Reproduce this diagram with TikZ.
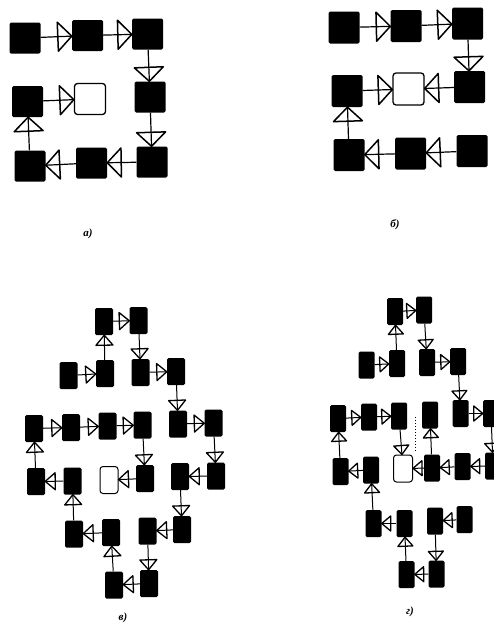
\documentclass[tikz,border=0pt]{standalone}
\usepackage{fontspec}
\setmainfont{Liberation Serif}
\usepackage{tikz}
\usetikzlibrary{decorations.markings, positioning}

\begin{document}
\begin{tikzpicture}[x=1pt, y=-1pt]
    % Styles
    \tikzstyle{blk} = [rectangle, fill=black, rounded corners=1.5pt, inner sep=0pt]
    \tikzstyle{outbox} = [rectangle, draw, fill=white, rounded corners=3pt, inner sep=0pt]
    \tikzstyle{link} = [draw, line width=1.2pt, postaction=decorate, decoration={markings,
        mark=at position 1 with {\draw [line width=1.5pt, line join=round] (-14pt,-14.5pt) -- (0pt,0pt) -- (-14pt,14.5pt) -- cycle;}}]
    \tikzstyle{slink} = [draw, line width=1pt, postaction=decorate, decoration={markings,
        mark=at position 1 with {\draw [line width=1.3pt, line join=round] (-10pt,-8.5pt) -- (0pt,0pt) -- (-10pt,8.5pt) -- cycle;}}]
    \tikzstyle{tlink} = [draw, line width=1pt, postaction=decorate, decoration={markings,
        mark=at position 1 with {\draw [line width=1.3pt, line join=round] (-9pt,-7.5pt) -- (0pt,0pt) -- (-9pt,7.5pt) -- cycle;}}]
    \tikzstyle{tag} = [font=\bfseries\itshape\fontsize{11}{11}\selectfont]

    \useasboundingbox (0,0) rectangle (494,629);

    % Panel a
    \begin{scope}[every node/.append style={minimum width=31pt, minimum height=31pt}]
    \node [blk] (A1) at (25,38) {};
    \node [blk] (A2) at (87.5,35.5) {};
    \node [blk] (A3) at (147.5,34) {};
    \node [blk] (A4) at (150,97) {};
    \node [blk] (A5) at (152,162) {};
    \node [blk] (A6) at (91.5,163) {};
    \node [blk] (A7) at (30,166) {};
    \node [blk] (A8) at (27.5,101.5) {};
    \node [outbox, line width=1.3pt] (A9) at (90,99) {};
    \end{scope}
    \draw [link] (A1) -- (A2);
    \draw [link] (A2) -- (A3);
    \draw [link] (A3) -- (A4);
    \draw [link] (A4) -- (A5);
    \draw [link] (A5) -- (A6);
    \draw [link] (A6) -- (A7);
    \draw [link] (A7) -- (A8);
    \draw [link] (A8) -- (A9);
    \node [tag] (tagA) at (88,234) {а)};

    % Panel b
    \begin{scope}[every node/.append style={minimum width=31pt, minimum height=32pt}]
    \node [blk] (B1) at (344,27.5) {};
    \node [blk] (B2) at (406,26) {};
    \node [blk] (B3) at (467.5,23.5) {};
    \node [blk] (B4) at (469.5,87) {};
    \node [outbox, line width=1.3pt] (B9) at (408.5,89) {};
    \node [blk] (B5) at (347,91) {};
    \node [blk] (B6) at (349,155) {};
    \node [blk] (B7) at (410.5,153.5) {};
    \node [blk] (B8) at (472,151) {};
    \end{scope}
    \draw [link] (B1) -- (B2);
    \draw [link] (B2) -- (B3);
    \draw [link] (B3) -- (B4);
    \draw [link] (B4) -- (B9);
    \draw [link] (B8) -- (B7);
    \draw [link] (B7) -- (B6);
    \draw [link] (B6) -- (B5);
    \draw [link] (B5) -- (B9);
    \node [tag] (tagB) at (395,225) {б)};

    % Panel c
    \begin{scope}[every node/.append style={minimum width=18pt, minimum height=27pt}]
    \node [blk] (C1) at (104,321.5) {};
    \node [blk] (C2) at (138.5,320.5) {};
    \node [blk] (C3) at (68.5,375.5) {};
    \node [blk] (C4) at (105,373.5) {};
    \node [blk] (C5) at (140.5,372.5) {};
    \node [blk] (C6) at (176,371.5) {};
    \node [blk] (C7) at (178,424) {};
    \node [blk] (C8) at (34,428.5) {};
    \node [blk] (C9) at (71,427.5) {};
    \node [blk] (C10) at (107.5,426) {};
    \node [blk] (C11) at (142.5,425) {};
    \node [blk] (C12) at (213.5,423) {};
    \node [blk] (C13) at (36,481.5) {};
    \node [blk] (C14) at (145,478.5) {};
    \node [blk] (C15) at (216,476) {};
    \node [blk] (C16) at (72.5,481) {};
    \node [outbox, line width=1pt] (C0) at (109,480) {};
    \node [blk] (C17) at (180,476.5) {};
    \node [blk] (C18) at (182,529.5) {};
    \node [blk] (C19) at (74,534) {};
    \node [blk] (C20) at (111,532.5) {};
    \node [blk] (C21) at (147.5,531) {};
    \node [blk] (C22) at (149,583.5) {};
    \node [blk] (C23) at (114,585) {};
    \end{scope}
    \draw [slink] (C3) -- (C4);
    \draw [slink] (C4) -- (C1);
    \draw [slink] (C1) -- (C2);
    \draw [slink] (C2) -- (C5);
    \draw [slink] (C5) -- (C6);
    \draw [slink] (C6) -- (C7);
    \draw [slink] (C7) -- (C12);
    \draw [slink] (C12) -- (C15);
    \draw [slink] (C15) -- (C17);
    \draw [slink] (C17) -- (C18);
    \draw [slink] (C18) -- (C21);
    \draw [slink] (C21) -- (C22);
    \draw [slink] (C22) -- (C23);
    \draw [slink] (C23) -- (C20);
    \draw [slink] (C20) -- (C19);
    \draw [slink] (C19) -- (C16);
    \draw [slink] (C16) -- (C13);
    \draw [slink] (C13) -- (C8);
    \draw [slink] (C8) -- (C9);
    \draw [slink] (C9) -- (C10);
    \draw [slink] (C10) -- (C11);
    \draw [slink] (C11) -- (C14);
    \draw [slink] (C14) -- (C0);
    \node [tag] (tagC) at (123,618) {в)};

    % Panel d
    \begin{scope}[every node/.append style={minimum width=16pt, minimum height=27pt}]
    \node [blk] (D1) at (395,311.5) {};
    \node [blk] (D2) at (424,310) {};
    \node [blk] (D3) at (366.5,365) {};
    \node [blk] (D4) at (397,363.5) {};
    \node [blk] (D5) at (427,362.5) {};
    \node [blk] (D6) at (458,361.5) {};
    \node [blk] (D7) at (460.5,413.5) {};
    \node [blk] (D8) at (338,418.5) {};
    \node [blk] (D9) at (369,417) {};
    \node [blk] (D10) at (399,416) {};
    \node [blk] (D11) at (430,415) {};
    \node [blk] (D12) at (491,413.5) {};
    \node [outbox, line width=1pt, minimum width=19pt] (D0) at (403,468.5) {};
    \node [blk] (D13) at (340.5,471.5) {};
    \node [blk] (D14) at (371,470) {};
    \node [blk] (D15) at (432,468) {};
    \node [blk] (D16) at (462.5,466.5) {};
    \node [blk] (D17) at (493,466) {};
    \node [blk] (D18) at (373.5,523.5) {};
    \node [blk] (D19) at (404.5,523.5) {};
    \node [blk] (D20) at (435,521) {};
    \node [blk] (D21) at (464.5,519.5) {};
    \node [blk] (D22) at (406.5,574.5) {};
    \node [blk] (D23) at (436.5,574) {};
    \end{scope}
    \draw [tlink] (D3) -- (D4);
    \draw [tlink] (D4) -- (D1);
    \draw [tlink] (D1) -- (D2);
    \draw [tlink] (D2) -- (D5);
    \draw [tlink] (D5) -- (D6);
    \draw [tlink] (D6) -- (D7);
    \draw [tlink] (D7) -- (D12);
    \draw [tlink] (D12) -- (D17);
    \draw [tlink] (D17) -- (D16);
    \draw [tlink] (D16) -- (D15);
    \draw [tlink] (D15) -- (D11);
    \draw [tlink] (D15) -- (D0);
    \draw [tlink] (D21) -- (D20);
    \draw [tlink] (D20) -- (D23);
    \draw [tlink] (D23) -- (D22);
    \draw [tlink] (D22) -- (D19);
    \draw [tlink] (D19) -- (D18);
    \draw [tlink] (D18) -- (D14);
    \draw [tlink] (D14) -- (D13);
    \draw [tlink] (D13) -- (D8);
    \draw [tlink] (D8) -- (D9);
    \draw [tlink] (D9) -- (D10);
    \draw [tlink] (D10) -- (D0);
    \coordinate (dtop) at (415,417);
    \coordinate (dbot) at (415,452);
    \draw [dotted, line width=1pt] (dtop) -- (dbot);
    \node [tag] (tagD) at (410,612) {г)};
\end{tikzpicture}
\end{document}
